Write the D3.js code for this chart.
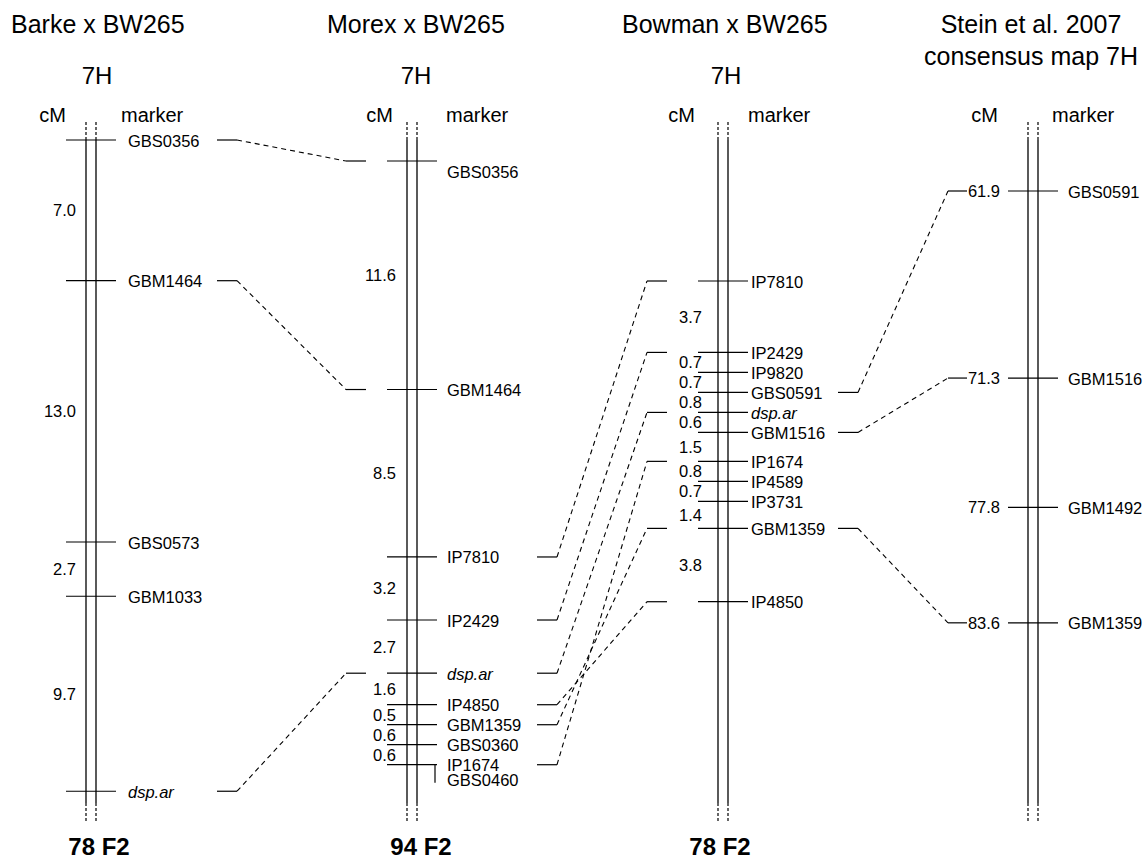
<!DOCTYPE html>
<html><head><meta charset="utf-8">
<script src="https://cdn.jsdelivr.net/npm/d3@7"></script>
<style>
body{margin:0;background:#fff}
text{font-family:"Liberation Sans",Arial,Helvetica,sans-serif;fill:#000}
</style>
</head><body>
<svg id="chart" width="1148" height="860"></svg>
<script>
// ---------------- DATA ----------------
const mapTitles = [["Barke x BW265"], ["Morex x BW265"], ["Bowman x BW265"], ["Stein et al. 2007", "consensus map 7H"]];
const chromosomeNames = ["7H", "7H", "7H", ""];
const populations = ["78 F2", "94 F2", "78 F2", ""];
const headerLabels = ["cM", "marker"];
const italicMarkers = ["dsp.ar"];

const barkeMarkers = ["GBS0356", "GBM1464", "GBS0573", "GBM1033", "dsp.ar"];
const barkeIntervals = [7.0, 13.0, 2.7, 9.7];

const morexMarkers = ["GBS0356", "GBM1464", "IP7810", "IP2429", "dsp.ar", "IP4850", "GBM1359", "GBS0360", "IP1674", "GBS0460"];
const morexIntervals = [11.6, 8.5, 3.2, 2.7, 1.6, 0.5, 0.6, 0.6, 0.0];

const bowmanMarkers = ["IP7810", "IP2429", "IP9820", "GBS0591", "dsp.ar", "GBM1516", "IP1674", "IP4589", "IP3731", "GBM1359", "IP4850"];
const bowmanIntervals = [3.7, 0.7, 0.7, 0.8, 0.6, 1.5, 0.8, 0.7, 1.4, 3.8];

const steinMarkers = ["GBS0591", "GBM1516", "GBM1492", "GBM1359"];
const steinPositions = [61.9, 71.3, 77.8, 83.6];

// ---------------- LAYOUT ----------------
const chromTop = 122, solidTop = 140, solidBottom = 803, chromBottom = 823;
const minGap = 20, coLocGap = 15;
const layout = [
  {x0: 86,  top: 140, k: 20.1, titleX: 11,  titleAnchor: "start", hX: 97,  cmRight: 66,  markerLeft: 121, intRight: 76,  labelX: 128,  rStub: [217, 237], lStub: null, popX: 99},
  {x0: 407, top: 161, k: 19.7, titleX: 327, titleAnchor: "start", hX: 416, cmRight: 393, markerLeft: 446, intRight: 396, labelX: 447,  rStub: [537, 557], lStub: [346, 366], popX: 421},
  {x0: 718, top: 281, k: 19.3, titleX: 622, titleAnchor: "start", hX: 726, cmRight: 695, markerLeft: 748, intRight: 702, labelX: 751,  rStub: [838, 858], lStub: [647, 667], popX: 720},
  {x0: 1028, top: 191, k: 19.9, titleX: 1031, titleAnchor: "middle", hX: null, cmRight: 998, markerLeft: 1052, posRight: 1000, labelX: 1068, rStub: null, lStub: [948, 967], popX: null}
];
const labelShift = {1: {"GBS0356": 10}};

const svg = d3.select("#chart");

// ---------------- BUILD MAPS ----------------
const intervalSets = [barkeIntervals, morexIntervals, bowmanIntervals];
const markerSets = [barkeMarkers, morexMarkers, bowmanMarkers, steinMarkers];

const maps = layout.map((L, mi) => {
  const names = markerSets[mi];
  let ys = [];
  if (mi < 3) {
    const iv = intervalSets[mi];
    const px = d3.scaleLinear().domain([0, 1]).range([0, L.k]);
    ys.push(L.top);
    iv.forEach((d, i) => {
      ys.push(d === 0 ? ys[i] : ys[i] + Math.max(minGap, px(d)));
    });
  } else {
    const ext = d3.extent(steinPositions);
    const y = d3.scaleLinear().domain(ext).range([L.top, L.top + (ext[1] - ext[0]) * L.k]);
    ys = steinPositions.map(y);
  }
  // label positions (co-located markers stack below)
  const labelYs = [];
  ys.forEach((y, i) => {
    let ly = y + ((labelShift[mi] || {})[names[i]] || 0);
    if (i > 0 && y === ys[i - 1]) ly = labelYs[i - 1] + coLocGap;
    labelYs.push(ly);
  });
  return {L, names, ys, labelYs, mi};
});

// ---------------- DRAW ----------------
maps.forEach(m => {
  const L = m.L, g = svg.append("g");
  // titles
  mapTitles[m.mi].forEach((t, i) => {
    g.append("text").attr("x", L.titleX).attr("y", 33 + i * 32)
      .attr("text-anchor", L.titleAnchor).attr("font-size", 25).text(t);
  });
  if (chromosomeNames[m.mi]) {
    g.append("text").attr("x", L.hX).attr("y", 84).attr("text-anchor", "middle")
      .attr("font-size", 24).text(chromosomeNames[m.mi]);
  }
  g.append("text").attr("x", L.cmRight).attr("y", 122).attr("text-anchor", "end").attr("font-size", 20).text(headerLabels[0]);
  g.append("text").attr("x", L.markerLeft).attr("y", 122).attr("text-anchor", "start").attr("font-size", 20).text(headerLabels[1]);

  // chromosome lines
  [L.x0, L.x0 + 10].forEach(x => {
    g.append("line").attr("x1", x).attr("x2", x).attr("y1", chromTop).attr("y2", solidTop)
      .attr("stroke", "#000").attr("stroke-width", 1.2).attr("stroke-dasharray", "3,2");
    g.append("line").attr("x1", x).attr("x2", x).attr("y1", solidTop).attr("y2", solidBottom)
      .attr("stroke", "#000").attr("stroke-width", 1.3);
    g.append("line").attr("x1", x).attr("x2", x).attr("y1", solidBottom).attr("y2", chromBottom)
      .attr("stroke", "#000").attr("stroke-width", 1.2).attr("stroke-dasharray", "3,2");
  });

  // ticks
  m.ys.forEach((y, i) => {
    if (i > 0 && y === m.ys[i - 1]) {
      // bracket for co-located marker
      g.append("line").attr("x1", L.x0 + 28).attr("x2", L.x0 + 28)
        .attr("y1", y).attr("y2", m.labelYs[i] + 3).attr("stroke", "#000").attr("stroke-width", 1.2);
      return;
    }
    g.append("line").attr("x1", L.x0 - 20).attr("x2", L.x0 + 30).attr("y1", y).attr("y2", y)
      .attr("stroke", "#000").attr("stroke-width", 1.2);
  });

  // marker labels
  m.names.forEach((n, i) => {
    g.append("text").attr("x", L.labelX).attr("y", m.labelYs[i] + 6.5).attr("font-size", 16.5)
      .attr("font-style", italicMarkers.includes(n) ? "italic" : "normal").text(n);
  });

  // cM labels
  if (m.mi < 3) {
    intervalSets[m.mi].forEach((d, i) => {
      if (d === 0) return;
      const mid = (m.ys[i] + m.ys[i + 1]) / 2;
      g.append("text").attr("x", L.intRight).attr("y", mid + 6).attr("text-anchor", "end")
        .attr("font-size", 16.5).text(d3.format(".1f")(d));
    });
  } else {
    steinPositions.forEach((p, i) => {
      g.append("text").attr("x", L.posRight).attr("y", m.ys[i] + 6).attr("text-anchor", "end")
        .attr("font-size", 16.5).text(d3.format(".1f")(p));
    });
  }

  // population
  if (populations[m.mi]) {
    g.append("text").attr("x", L.popX).attr("y", 855).attr("text-anchor", "middle")
      .attr("font-size", 24).attr("font-weight", "bold").text(populations[m.mi]);
  }
});

// connections between adjacent maps
for (let i = 0; i < maps.length - 1; i++) {
  const A = maps[i], B = maps[i + 1];
  const g = svg.append("g");
  A.names.forEach((n, ia) => {
    const ib = B.names.indexOf(n);
    if (ib < 0) return;
    const ya = A.ys[ia], yb = B.ys[ib];
    g.append("line").attr("x1", A.L.rStub[0]).attr("x2", A.L.rStub[1]).attr("y1", ya).attr("y2", ya)
      .attr("stroke", "#000").attr("stroke-width", 1.2);
    g.append("line").attr("x1", B.L.lStub[0]).attr("x2", B.L.lStub[1]).attr("y1", yb).attr("y2", yb)
      .attr("stroke", "#000").attr("stroke-width", 1.2);
    g.append("line").attr("x1", A.L.rStub[1]).attr("x2", B.L.lStub[0]).attr("y1", ya).attr("y2", yb)
      .attr("stroke", "#000").attr("stroke-width", 1.1).attr("stroke-dasharray", "5,4");
  });
}
</script>
</body></html>
